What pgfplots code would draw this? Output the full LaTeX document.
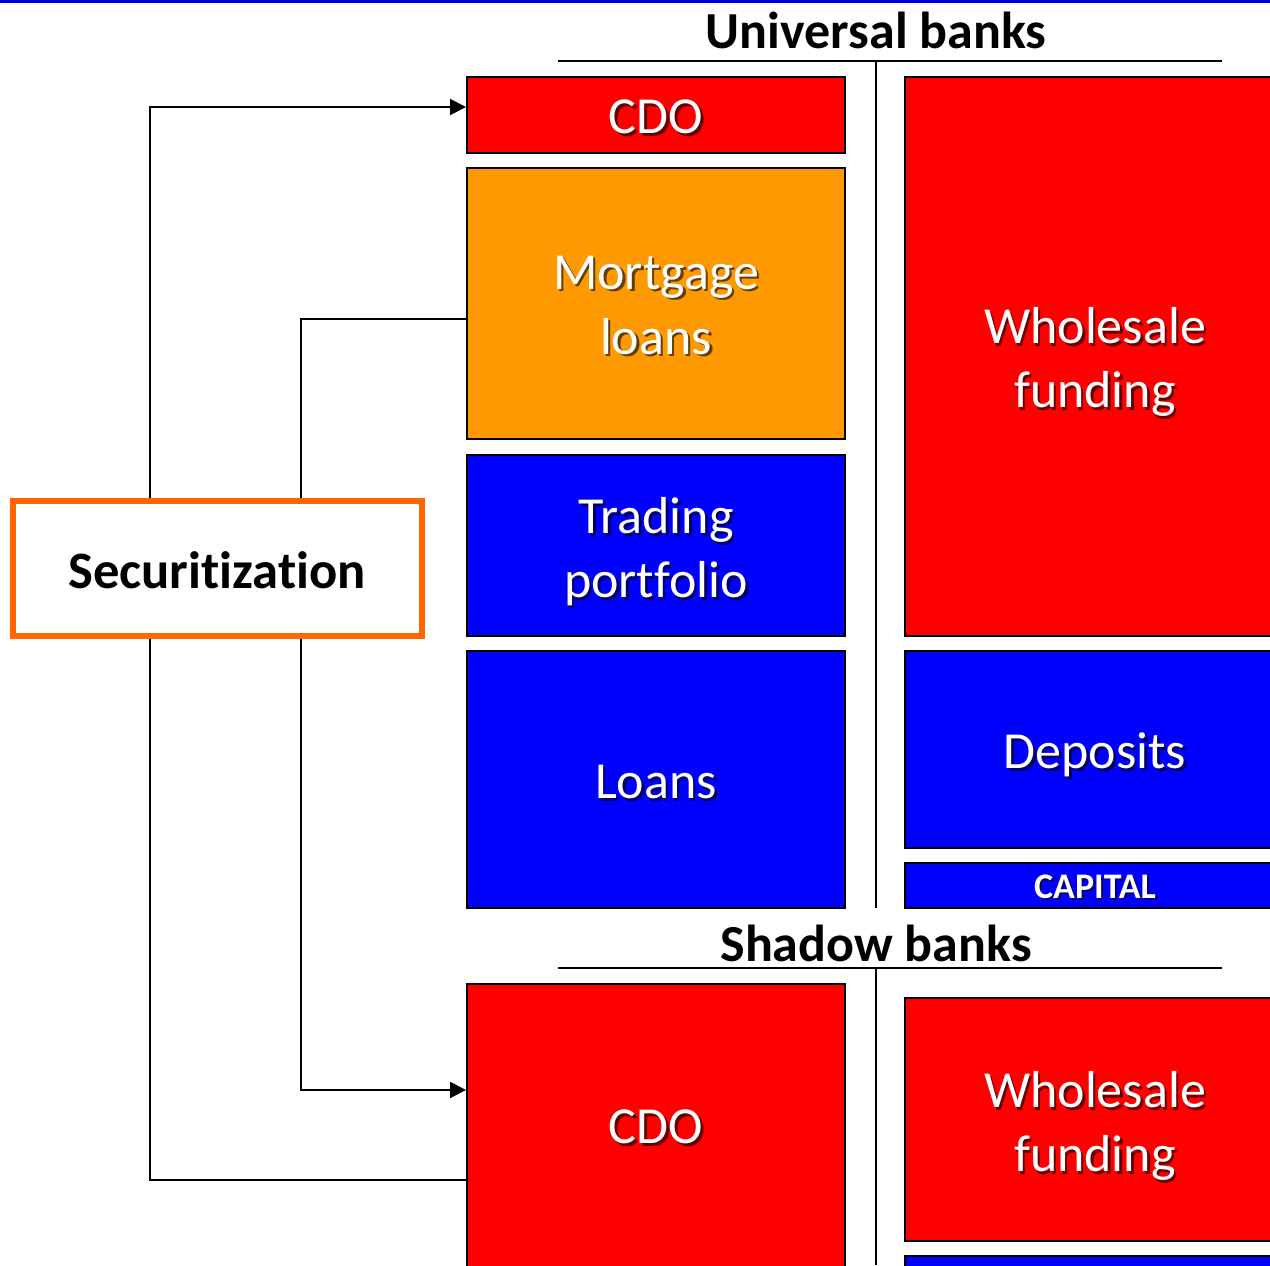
\documentclass[border=0pt]{standalone}
\usepackage{pgfplots}
\pgfplotsset{compat=1.18}
\usepackage{fontspec}
\setmainfont[Ligatures={NoCommon}]{Carlito}
\usetikzlibrary{arrows.meta}
\definecolor{myred}{RGB}{255,0,0}
\definecolor{myorange}{RGB}{255,153,0}
\definecolor{myblue}{RGB}{0,0,255}
\definecolor{boxorange}{RGB}{255,102,0}
\begin{document}
\begin{tikzpicture}
\begin{axis}[
  width=635pt, height=632.5pt, scale only axis,
  xmin=0, xmax=1270, ymin=0, ymax=1265, y dir=reverse,
  hide axis, clip=true,
]
% background
\addplot[fill=white, draw=none] coordinates {(0,0) (1270,0) (1270,1265) (0,1265)} -- cycle;
% top blue line
\addplot[fill=myblue!90!black, draw=none] coordinates {(0,0) (1270,0) (1270,2.5) (0,2.5)} -- cycle;
% boxes
\addplot[fill=myred, draw=black, line width=1pt] coordinates {(467,77) (845,77) (845,153) (467,153)} -- cycle;
\addplot[fill=myorange, draw=black, line width=1pt] coordinates {(467,168) (845,168) (845,439) (467,439)} -- cycle;
\addplot[fill=myblue, draw=black, line width=1pt] coordinates {(467,455) (845,455) (845,636) (467,636)} -- cycle;
\addplot[fill=myblue, draw=black, line width=1pt] coordinates {(467,651) (845,651) (845,908) (467,908)} -- cycle;
\addplot[fill=myred, draw=black, line width=1pt] coordinates {(905,77) (1280,77) (1280,636) (905,636)} -- cycle;
\addplot[fill=myblue, draw=black, line width=1pt] coordinates {(905,651) (1280,651) (1280,848) (905,848)} -- cycle;
\addplot[fill=myblue, draw=black, line width=1pt] coordinates {(905,863) (1280,863) (1280,908) (905,908)} -- cycle;
\addplot[fill=myred, draw=black, line width=1pt] coordinates {(467,984) (845,984) (845,1280) (467,1280)} -- cycle;
\addplot[fill=myred, draw=black, line width=1pt] coordinates {(905,998) (1280,998) (1280,1241) (905,1241)} -- cycle;
\addplot[fill=myblue, draw=black, line width=1pt] coordinates {(905,1256) (1280,1256) (1280,1280) (905,1280)} -- cycle;
% underlines and dividers
\addplot[black, line width=1pt] coordinates {(558,61) (1222,61)};
\addplot[black, line width=1pt] coordinates {(558,968) (1222,968)};
\addplot[black, line width=1pt] coordinates {(876,62) (876,908)};
\addplot[black, line width=1pt] coordinates {(876,968) (876,1265)};
% connectors
\addplot[black, line width=1pt, -{Triangle[length=8pt,width=8pt]}] coordinates {(150,500) (150,107) (466,107)};
\addplot[black, line width=1pt] coordinates {(301,500) (301,319) (467,319)};
\addplot[black, line width=1pt] coordinates {(150,637) (150,1180) (467,1180)};
\addplot[black, line width=1pt, -{Triangle[length=8pt,width=8pt]}] coordinates {(301,637) (301,1090) (466,1090)};
% securitization box
\addplot[fill=white, draw=boxorange, line width=3pt] coordinates {(13,501) (422,501) (422,636) (13,636)} -- cycle;
% titles
\node[font=\fontsize{26}{31}\selectfont\bfseries] at (axis cs:876,30) {Universal banks};
\node[font=\fontsize{26}{31}\selectfont\bfseries] at (axis cs:876,943) {Shadow banks};
\node[font=\fontsize{26.3}{31}\selectfont\bfseries] at (axis cs:217,570) {Securitization};
% shadowed white labels
\node[font=\fontsize{26}{32.5}\selectfont, align=center, text=black, opacity=0.6, xshift=1.3pt, yshift=-1.3pt] at (axis cs:656,117) {CDO};
\node[font=\fontsize{26}{32.5}\selectfont, align=center, text=white] at (axis cs:656,117) {CDO};
\node[font=\fontsize{26}{32.5}\selectfont, align=center, text=black, opacity=0.6, xshift=1.3pt, yshift=-1.3pt] at (axis cs:656,305) {Mortgage\\loans};
\node[font=\fontsize{26}{32.5}\selectfont, align=center, text=white] at (axis cs:656,305) {Mortgage\\loans};
\node[font=\fontsize{26}{32}\selectfont, align=center, text=black, opacity=0.6, xshift=1.3pt, yshift=-1.3pt] at (axis cs:656,552) {Trading\\portfolio};
\node[font=\fontsize{26}{32}\selectfont, align=center, text=white] at (axis cs:656,552) {Trading\\portfolio};
\node[font=\fontsize{26}{32}\selectfont, align=center, text=black, opacity=0.6, xshift=1.3pt, yshift=-1.3pt] at (axis cs:656,782) {Loans};
\node[font=\fontsize{26}{32}\selectfont, align=center, text=white] at (axis cs:656,782) {Loans};
\node[font=\fontsize{26}{32}\selectfont, align=center, text=black, opacity=0.6, xshift=1.3pt, yshift=-1.3pt] at (axis cs:1095,362) {Wholesale\\funding};
\node[font=\fontsize{26}{32}\selectfont, align=center, text=white] at (axis cs:1095,362) {Wholesale\\funding};
\node[font=\fontsize{26}{32}\selectfont, align=center, text=black, opacity=0.6, xshift=1.3pt, yshift=-1.3pt] at (axis cs:1095,755) {Deposits};
\node[font=\fontsize{26}{32}\selectfont, align=center, text=white] at (axis cs:1095,755) {Deposits};
\node[font=\fontsize{18}{22}\selectfont\bfseries, text=black, opacity=0.6, xshift=1pt, yshift=-1pt] at (axis cs:1095,887) {CAPITAL};
\node[font=\fontsize{18}{22}\selectfont\bfseries, text=white] at (axis cs:1095,887) {CAPITAL};
\node[font=\fontsize{26}{32}\selectfont, align=center, text=black, opacity=0.6, xshift=1.3pt, yshift=-1.3pt] at (axis cs:656,1127) {CDO};
\node[font=\fontsize{26}{32}\selectfont, align=center, text=white] at (axis cs:656,1127) {CDO};
\node[font=\fontsize{26}{32}\selectfont, align=center, text=black, opacity=0.6, xshift=1.3pt, yshift=-1.3pt] at (axis cs:1095,1126) {Wholesale\\funding};
\node[font=\fontsize{26}{32}\selectfont, align=center, text=white] at (axis cs:1095,1126) {Wholesale\\funding};
\end{axis}
\end{tikzpicture}
\end{document}
